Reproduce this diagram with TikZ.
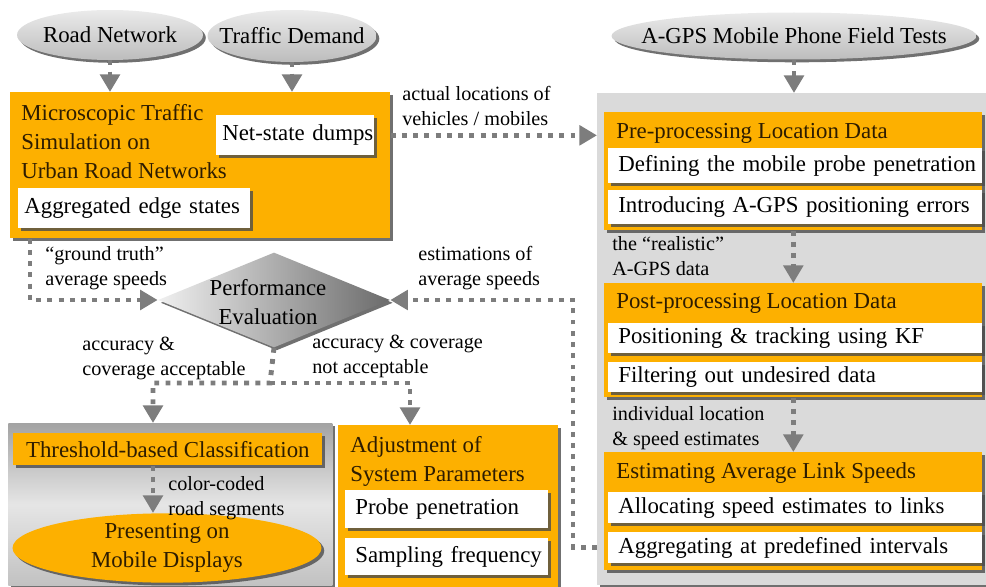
\documentclass[tikz,border=0pt]{standalone}
\usepackage{fontspec}
\setmainfont{Liberation Serif}
\usetikzlibrary{shapes,arrows.meta,shadows,positioning}
\definecolor{boxorange}{RGB}{253,176,0}
\definecolor{panelgray}{RGB}{218,218,218}
\definecolor{flowgray}{RGB}{125,125,125}
\definecolor{titlebrown}{RGB}{45,28,0}

\begin{document}
\begin{tikzpicture}[
    x=0.02cm, y=-0.02cm,
    font=\fontsize{13}{16.5}\selectfont,
    boxshadow/.style = {drop shadow={shadow xshift=1.6pt, shadow yshift=-1.6pt,
                fill=black!70, opacity=.8}},
    inputell/.style = {ellipse, inner xsep=-30pt, inner ysep=0pt,
                top color=black!8, bottom color=black!26, boxshadow},
    orangebox/.style = {fill=boxorange, anchor=north west, inner sep=0pt,
                text=titlebrown, boxshadow},
    whitebox/.style = {fill=white, anchor=north west, inner xsep=0.2cm, inner ysep=0pt,
                text width=#1, align=left, boxshadow,
                execute at begin node=\hbox\bgroup, execute at end node=\egroup},
    whitebox/.default = 7.08cm,
    titletxt/.style = {anchor=west, inner sep=0pt, align=left, text=titlebrown},
    lbl/.style = {anchor=west, inner sep=0pt, align=left,
                font=\fontsize{11.5}{14.2}\selectfont},
    decision/.style = {diamond, inner sep=0pt, left color=black!6, right color=black!58,
                boxshadow},
    flow/.style = {draw=flowgray, line width=2.8pt, dash pattern=on 2.8pt off 3.6pt,
                -{Triangle[width=11pt,length=10pt]}}
                    ]
    \useasboundingbox (0,0) rectangle (986,587);

    % data sources
    \node[inputell, minimum width=3.72cm, minimum height=1.0cm] (roadnet) at (110,35) {Road Network};
    \node[inputell, minimum width=3.38cm, minimum height=1.04cm] (demand) at (292,36) {Traffic Demand};
    \node[inputell, minimum width=7.3cm, minimum height=0.94cm] (fieldtest) at (794,36) {A-GPS Mobile Phone Field Tests};

    % simulation
    \node[orangebox, minimum width=7.6cm, minimum height=2.92cm] (sim) at (10,92) {};
    \node[titletxt] (simtitle) at (21,142) {Microscopic Traffic\\Simulation on\\Urban Road Networks};
    \node[whitebox=2.92cm, inner xsep=0.12cm, minimum height=0.8cm] (dumps) at (216,115) {Net-state dumps};
    \node[whitebox=4.4cm, inner xsep=0.12cm, minimum height=0.8cm] (aggedge) at (18,188) {Aggregated edge states};

    % processing chain
    \node[fill=panelgray, anchor=north west, minimum width=7.78cm, minimum height=9.84cm,
          boxshadow] (procpanel) at (597,93) {};
    \node[orangebox, minimum width=7.56cm, minimum height=2.36cm] (pre) at (604,112) {};
    \node[titletxt] (pretitle) at (616,133) {Pre-processing Location Data};
    \node[whitebox, minimum height=0.7cm] (defpen) at (608,148) {Defining the mobile probe penetration};
    \node[whitebox, minimum height=0.68cm] (gpserr) at (608,190) {Introducing A-GPS positioning errors};

    \node[orangebox, minimum width=7.56cm, minimum height=2.28cm] (post) at (604,283) {};
    \node[titletxt] (posttitle) at (616,303) {Post-processing Location Data};
    \node[whitebox, minimum height=0.6cm] (kf) at (608,323) {Positioning \& tracking using KF};
    \node[whitebox, minimum height=0.6cm] (filter) at (608,362) {Filtering out undesired data};

    \node[orangebox, minimum width=7.56cm, minimum height=2.36cm] (estim) at (604,452) {};
    \node[titletxt] (estimtitle) at (616,473) {Estimating Average Link Speeds};
    \node[whitebox, minimum height=0.62cm] (alloc) at (608,492) {Allocating speed estimates to links};
    \node[whitebox, minimum height=0.62cm] (aggint) at (608,532) {Aggregating at predefined intervals};

    % evaluation
    \node[decision, minimum width=4.64cm, minimum height=1.9cm] (perf) at (274,300) {};
    \node[align=center, inner sep=0pt] (perftext) at (268,302) {Performance\\Evaluation};

    % results
    \node[anchor=north west, minimum width=6.48cm, minimum height=3.24cm,
          top color=black!36, bottom color=black!24, middle color=black!10,
          boxshadow] (classpanel) at (8,423) {};
    \node[orangebox, minimum width=6.18cm, minimum height=0.64cm] (thresh) at (13,433) {Threshold-based Classification};
    \node[ellipse, fill=boxorange, text=titlebrown, align=center, inner sep=0pt,
          minimum width=6.18cm, minimum height=1.06cm, boxshadow] (present) at (167,548) {Presenting on\\Mobile Displays};

    \node[orangebox, minimum width=4.4cm, minimum height=3.3cm] (adjust) at (338,425) {};
    \node[titletxt] (adjtitle) at (350,461) {Adjustment of\\System Parameters};
    \node[whitebox=3.66cm, minimum height=0.76cm] (probe) at (345,490) {Probe penetration};
    \node[whitebox=3.66cm, minimum height=0.74cm] (sampling) at (345,538) {Sampling frequency};

    % labels
    \node[lbl] (actloc) at (402,106) {actual locations of\\vehicles / mobiles};
    \node[lbl] (realistic) at (612,256) {the ``realistic''\\A-GPS data};
    \node[lbl] (indiv) at (612,428) {individual location\\\& speed estimates};
    \node[lbl] (truth) at (45,268) {``ground truth''\\average speeds};
    \node[lbl] (estlbl) at (418,268) {estimations of\\average speeds};
    \node[lbl] (okl) at (82,358) {accuracy \&\\coverage acceptable};
    \node[lbl] (nokl) at (312,356) {accuracy \& coverage\\not acceptable};
    \node[lbl] (colcode) at (168,498) {color-coded\\road segments};

    % corners of the connectors
    \coordinate (truthcorner) at (30,300);
    \coordinate (estcorner) at (573,300);
    \coordinate (split) at (270,383);
    \coordinate (okdrop) at (153,383);
    \coordinate (nokdrop) at (410,383);

    % connectors
    \draw[flow] (roadnet.south) -- (roadnet.south |- sim.north);
    \draw[flow] (demand.south) -- (demand.south |- sim.north);
    \draw[flow] (fieldtest.south) -- (fieldtest.south |- procpanel.north);
    \draw[flow] (dumps.east -| sim.east) -- (dumps.east -| procpanel.west);
    \draw[flow] (pre.south) -- (post.north);
    \draw[flow] (post.south) -- (estim.north);
    \draw[flow] (truthcorner |- sim.south) -- (truthcorner) -- (perf.west);
    \draw[flow] (procpanel.west |- aggint) -| (estcorner) -- (perf.east);
    \draw[flow] (perf.south) -- (split) -- (okdrop) -- (okdrop |- classpanel.north);
    \draw[flow] (split) -- (nokdrop) -- (nokdrop |- adjust.north);
    \draw[flow] (okdrop |- thresh.south) -- (okdrop |- present.north);
\end{tikzpicture}
\end{document}
